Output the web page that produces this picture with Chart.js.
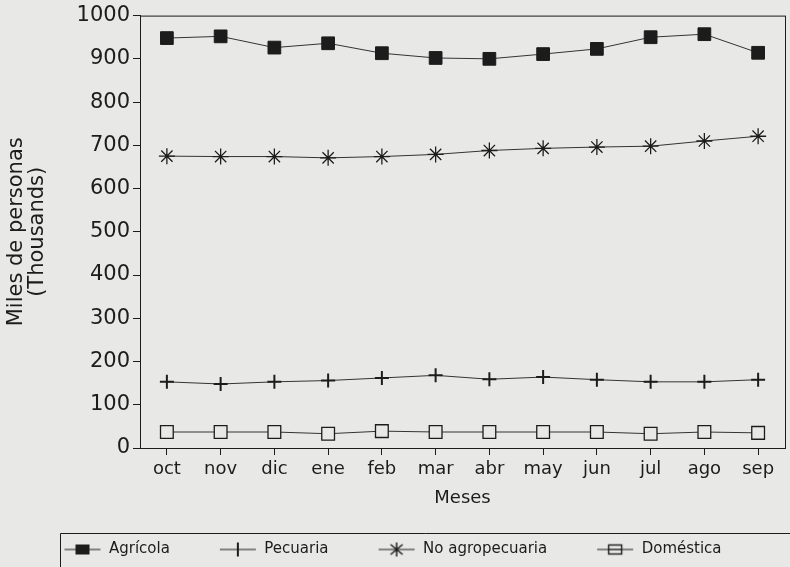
<!DOCTYPE html>
<html>
<head>
<meta charset="utf-8">
<script src="https://cdn.jsdelivr.net/npm/chart.js@4.4.1/dist/chart.umd.min.js"></script>
<style>
  body { margin: 0; background: #e8e8e6; }
  #wrap { width: 790px; height: 567px; position: relative; }
</style>
</head>
<body>
<div id="wrap"><canvas id="grafico"></canvas></div>
<script>
// datos (miles de personas)
const meses = ['oct', 'nov', 'dic', 'ene', 'feb', 'mar', 'abr', 'may', 'jun', 'jul', 'ago', 'sep'];
const agricola = [948, 952, 926, 936, 913, 902, 900, 911, 923, 950, 957, 914];
const pecuaria = [153, 148, 153, 156, 162, 168, 159, 164, 158, 153, 153, 158];
const noAgropecuaria = [675, 674, 674, 671, 674, 679, 688, 693, 696, 698, 710, 721];
const domestica = [37, 37, 37, 33, 39, 37, 37, 37, 37, 33, 37, 35];
const ticksY = [0, 100, 200, 300, 400, 500, 600, 700, 800, 900, 1000];

const TINTA = '#1c1c1c';
const FONDO = '#e8e8e6';

// iconos de la leyenda: linea con marcador
function icono(tipo) {
  var c = document.createElement('canvas');
  c.width = 38; c.height = 16;
  var ctx = c.getContext('2d');
  ctx.strokeStyle = TINTA; ctx.fillStyle = TINTA; ctx.lineWidth = 1.2;
  ctx.beginPath(); ctx.moveTo(1, 8); ctx.lineTo(37, 8); ctx.stroke();
  if (tipo == 'lleno') {
    ctx.fillRect(12, 3, 14, 10);
  } else if (tipo == 'cruz') {
    ctx.lineWidth = 2;
    ctx.beginPath(); ctx.moveTo(19, 1); ctx.lineTo(19, 15); ctx.stroke();
  } else if (tipo == 'estrella') {
    ctx.lineWidth = 1.5;
    ctx.beginPath();
    ctx.moveTo(19, 1); ctx.lineTo(19, 15);
    ctx.moveTo(13, 3); ctx.lineTo(25, 13);
    ctx.moveTo(25, 3); ctx.lineTo(13, 13);
    ctx.stroke();
  } else {
    ctx.fillStyle = FONDO;
    ctx.fillRect(12, 3, 14, 10);
    ctx.lineWidth = 1.4;
    ctx.strokeRect(12.5, 3.5, 13, 9);
    ctx.beginPath(); ctx.moveTo(12, 8); ctx.lineTo(26, 8); ctx.stroke();
  }
  return c;
}
const iconos = [icono('lleno'), icono('cruz'), icono('estrella'), icono('abierto')];

const marco = {
  id: 'marco',
  beforeDatasetsDraw(chart) {
    const a = chart.chartArea, ctx = chart.ctx;
    ctx.save();
    ctx.strokeStyle = TINTA; ctx.lineWidth = 1;
    ctx.strokeRect(a.left + 0.5, a.top + 0.5, a.right - a.left, a.bottom - a.top);
    ctx.restore();
  },
  afterDraw(chart) {
    const l = chart.legend, ctx = chart.ctx;
    const y = Math.round(l.bottom - 34) + 0.5;
    ctx.save();
    ctx.strokeStyle = TINTA; ctx.lineWidth = 1;
    ctx.beginPath();
    ctx.moveTo(60.5, chart.height);
    ctx.lineTo(60.5, y);
    ctx.lineTo(790, y);
    ctx.stroke();
    ctx.restore();
  }
};

Chart.defaults.font.family = "'DejaVu Sans', sans-serif";
Chart.defaults.color = TINTA;

new Chart(document.getElementById('grafico'), {
  type: 'line',
  data: {
    labels: meses,
    datasets: [
      { label: 'Agrícola', data: agricola, borderColor: '#333', borderWidth: 1,
        pointStyle: 'rect', pointRadius: 9, pointBackgroundColor: TINTA, pointBorderColor: TINTA },
      { label: 'Pecuaria', data: pecuaria, borderColor: '#333', borderWidth: 1,
        pointStyle: 'cross', pointRadius: 7, pointBorderWidth: 2, pointBorderColor: TINTA },
      { label: 'No agropecuaria', data: noAgropecuaria, borderColor: '#333', borderWidth: 1,
        pointStyle: 'star', pointRadius: 8, pointBorderWidth: 1.3, pointBorderColor: TINTA },
      { label: 'Doméstica', data: domestica, borderColor: '#333', borderWidth: 1,
        pointStyle: 'rect', pointRadius: 9, pointBorderWidth: 1.3, pointBackgroundColor: FONDO, pointBorderColor: TINTA }
    ]
  },
  options: {
    responsive: true,
    maintainAspectRatio: false,
    animation: false,
    layout: { autoPadding: false, padding: { top: 4, right: 5, left: 0, bottom: 0 } },
    plugins: {
      tooltip: { enabled: false },
      legend: {
        position: 'bottom',
        labels: {
          usePointStyle: true,
          pointStyleWidth: 38,
          padding: 49,
          font: { size: 15 },
          generateLabels(chart) {
            return chart.data.datasets.map(function(ds, i) {
              return { text: ds.label, pointStyle: iconos[i], datasetIndex: i,
                       fontColor: TINTA, lineWidth: 0, hidden: false };
            });
          }
        }
      }
    },
    scales: {
      x: {
        offset: true,
        afterFit(s) { s.height = 45; },
        grid: { drawOnChartArea: false, drawTicks: true, tickLength: 7, color: TINTA },
        border: { color: TINTA },
        ticks: { font: { size: 18 }, padding: 4, maxRotation: 0 },
        // el titulo cae por debajo de la caja del eje, sobre la leyenda
        title: { display: true, text: 'Meses', font: { size: 18 }, padding: { top: 0, bottom: -16 } }
      },
      y: {
        min: 0, max: 1000,
        afterFit(s) { s.width = 140; },
        afterBuildTicks(s) { s.ticks = ticksY.map(function(v) { return { value: v }; }); },
        grid: { drawOnChartArea: false, drawTicks: true, tickLength: 7, color: TINTA },
        border: { color: TINTA },
        ticks: { font: { size: 21 }, padding: 3, callback: function(v) { return String(v); } },
        title: { display: true, text: ['Miles de personas', '(Thousands)'],
                 font: { size: 21, lineHeight: 1.0 }, padding: { top: 6, bottom: 0 } }
      }
    }
  },
  plugins: [marco]
});
</script>
</body>
</html>
